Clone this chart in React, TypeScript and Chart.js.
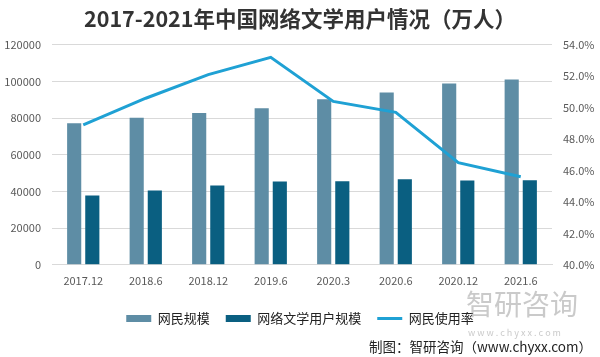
import React, { useEffect, useRef } from "react";
import { Chart, registerables } from "chart.js";

Chart.register(...registerables);

const categories = ["2017.12", "2018.6", "2018.12", "2019.6", "2020.3", "2020.6", "2020.12", "2021.6"];
const netizens = [77198, 80166, 82851, 85449, 90359, 93984, 98899, 101074];
const literatureUsers = [37774, 40595, 43201, 45454, 45538, 46704, 46013, 46127];
const usageRate = [48.9, 50.6, 52.1, 53.2, 50.4, 49.7, 46.5, 45.6];

const titleText = "2017-2021年中国网络文学用户情况（万人）";
const seriesNames = ["网民规模", "网络文学用户规模", "网民使用率"];
const sourceText = "制图：智研咨询（www.chyxx.com）";
const watermarkMain = "智研咨询";
const watermarkSub = "w w w . c h y x x . c o m";

const FONT = "'Noto Sans CJK SC', 'Noto Sans', sans-serif";
const LIGHT = "#5e8da5";
const DARK = "#0a5f81";
const LINE = "#1fa1d4";

const extrasPlugin = {
  id: "extras",
  beforeDatasetsDraw(chart: any) {
    const ctx = chart.ctx;
    ctx.save();
    ctx.fillStyle = "rgba(150,150,150,0.5)";
    ctx.font = `28px ${FONT}`;
    ctx.textAlign = "left";
    ctx.textBaseline = "middle";
    ctx.fillText(watermarkMain, 466, 304);
    ctx.font = `9px ${FONT}`;
    ctx.fillText(watermarkSub, 468, 333);
    ctx.restore();
  },
  afterDraw(chart: any) {
    const ctx = chart.ctx;
    ctx.save();
    ctx.fillStyle = "#222";
    ctx.font = `13.5px ${FONT}`;
    ctx.textAlign = "right";
    ctx.textBaseline = "middle";
    ctx.fillText(sourceText, 592, 347);
    ctx.restore();
  },
};

export default function App() {
  const ref = useRef<HTMLCanvasElement>(null);
  useEffect(() => {
    if (!ref.current) return;
    const chart = new Chart(ref.current, {
      type: "bar",
      data: {
        labels: categories,
        datasets: [
          {
            type: "line",
            label: seriesNames[2],
            data: usageRate,
            yAxisID: "y1",
            borderColor: LINE,
            backgroundColor: LINE,
            borderWidth: 3,
            pointRadius: 0,
            tension: 0,
            order: 0,
          } as any,
          {
            label: seriesNames[0],
            data: netizens,
            yAxisID: "y",
            backgroundColor: LIGHT,
            barPercentage: 0.78,
            categoryPercentage: 0.58,
            order: 1,
          },
          {
            label: seriesNames[1],
            data: literatureUsers,
            yAxisID: "y",
            backgroundColor: DARK,
            barPercentage: 0.78,
            categoryPercentage: 0.58,
            order: 1,
          },
        ],
      },
      options: {
        animation: false,
        responsive: false,
        maintainAspectRatio: false,
        layout: { padding: { left: 0, right: 0, top: 0, bottom: 22 } },
        plugins: {
          title: {
            display: true,
            text: titleText,
            color: "#333",
            font: { family: FONT, size: 21.5, weight: "bold" },
            padding: { top: 6, bottom: 13 },
          },
          legend: {
            position: "bottom",
            labels: {
              color: "#222",
              font: { family: FONT, size: 13 },
              usePointStyle: true,
              pointStyleWidth: 25,
              boxHeight: 7,
              padding: 16,
              generateLabels(chart: any) {
                const order = [1, 2, 0];
                return order.map((i) => {
                  const ds = chart.data.datasets[i];
                  const isLine = i === 0;
                  return {
                    text: ds.label,
                    datasetIndex: i,
                    fillStyle: isLine ? LINE : ds.backgroundColor,
                    strokeStyle: isLine ? LINE : ds.backgroundColor,
                    lineWidth: isLine ? 3 : 0,
                    pointStyle: isLine ? "line" : "rect",
                    hidden: false,
                    fontColor: "#222",
                  };
                });
              },
            },
          },
          tooltip: { enabled: false },
        },
        scales: {
          x: {
            grid: { display: false, drawTicks: false },
            border: { display: true, color: "#d9d9d9" },
            ticks: { color: "#595959", font: { family: FONT, size: 11 }, padding: 9, maxRotation: 0 },
          },
          y: {
            position: "left",
            min: 0,
            max: 120000,
            grid: { color: "#d9d9d9", drawTicks: false },
            border: { display: false },
            ticks: {
              stepSize: 20000,
              color: "#595959",
              font: { family: FONT, size: 11 },
              padding: 11,
              callback: (v: any) => String(v),
            },
            afterFit(scale: any) {
              scale.width = 52;
            },
          },
          y1: {
            position: "right",
            min: 40,
            max: 54,
            grid: { display: false, drawTicks: false },
            border: { display: false },
            ticks: {
              stepSize: 2,
              color: "#595959",
              font: { family: FONT, size: 11 },
              padding: 11,
              callback: (v: any) => Number(v).toFixed(1) + "%",
            },
            afterFit(scale: any) {
              scale.width = 48;
            },
          },
        },
      },
      plugins: [extrasPlugin],
    });
    return () => chart.destroy();
  }, []);
  return (
    <div style={{ position: "fixed", left: 0, top: 0, width: 600, height: 357, background: "#fff" }}>
      <canvas ref={ref} width={600} height={357} />
    </div>
  );
}
